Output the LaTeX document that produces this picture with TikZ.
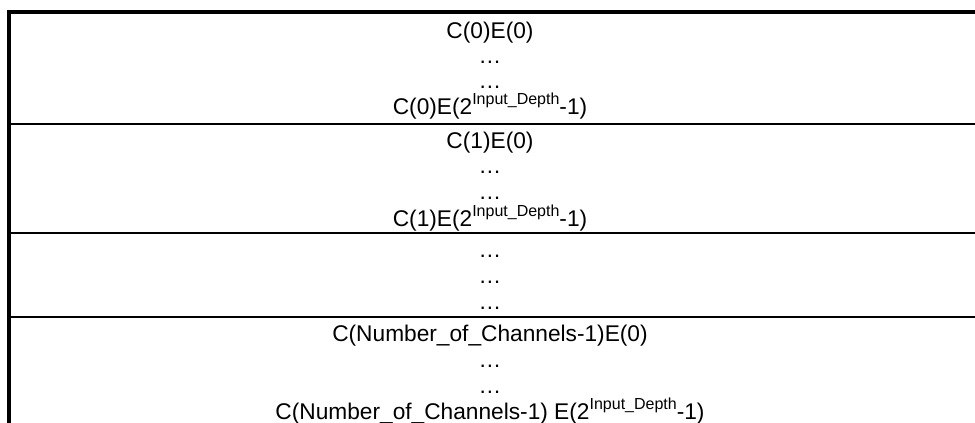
\documentclass[tikz,border=0pt]{standalone}
\usepackage{fontspec}
\setmainfont{Liberation Sans}
\begin{document}
\begin{tikzpicture}[x=1pt,y=-1pt,
  cell/.style={anchor=base,inner sep=0pt,outer sep=0pt,
    font=\fontsize{22.7}{26}\selectfont},
  frame/.style={line width=4pt,line cap=rect},
  rowline/.style={line width=2pt}]
\useasboundingbox (0,0) rectangle (975,423);
\newcommand{\expo}{\raisebox{10pt}{\fontsize{16}{16}\selectfont Input\_Depth}}
\def\cx{490}

% outer frame: top edge and left edge
\draw[frame] (9,12) -- (975,12);
\draw[frame] (9,12) -- (9,430);
% row separators
\draw[rowline] (9,124) -- (975,124);
\draw[rowline] (9,233) -- (975,233);
\draw[rowline] (9,317) -- (975,317);

% channel 0
\node[cell] (c0a) at (\cx,38)  {C(0)E(0)};
\node[cell] (c0b) at (\cx,63)  {…};
\node[cell] (c0c) at (\cx,88)  {…};
\node[cell] (c0d) at (\cx,114) {C(0)E(2\expo-1)};
% channel 1
\node[cell] (c1a) at (\cx,148) {C(1)E(0)};
\node[cell] (c1b) at (\cx,173) {…};
\node[cell] (c1c) at (\cx,199) {…};
\node[cell] (c1d) at (\cx,226) {C(1)E(2\expo-1)};
% intermediate channels
\node[cell] (cma) at (\cx,257) {…};
\node[cell] (cmb) at (\cx,283) {…};
\node[cell] (cmc) at (\cx,309) {…};
% last channel
\node[cell] (cna) at (\cx,341) {C(Number\_of\_Channels-1)E(0)};
\node[cell] (cnb) at (\cx,367) {…};
\node[cell] (cnc) at (\cx,393) {…};
\node[cell] (cnd) at (\cx,419) {C(Number\_of\_Channels-1) E(2\expo-1)};
\end{tikzpicture}
\end{document}
